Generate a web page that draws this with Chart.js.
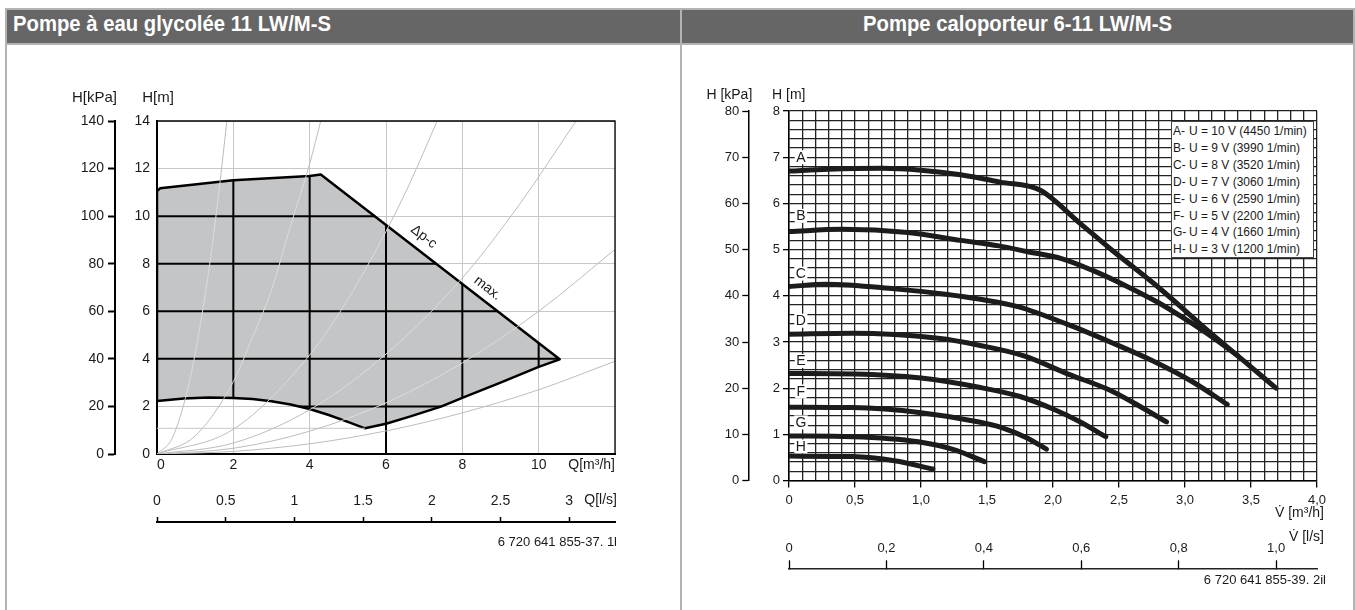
<!DOCTYPE html>
<html><head><meta charset="utf-8">
<script src="https://cdn.jsdelivr.net/npm/chart.js@4.4.1/dist/chart.umd.min.js"></script>
<style>
html,body{margin:0;padding:0;background:#fff}
body{width:1355px;height:610px;position:relative;overflow:hidden;font-family:'Liberation Sans',Arial,sans-serif}
.f{position:absolute;background:#b3b3b3}
.hdr{position:absolute;top:10px;height:33px;background:#666;color:#fff;font-family:'Liberation Sans Narrow','Liberation Sans',sans-serif;font-weight:bold;font-size:22px;line-height:28px;white-space:nowrap;overflow:hidden}
.hdr span{display:inline-block}
.box{position:absolute}
#leg{position:absolute;left:1171px;top:121px;width:143px;height:137px;border:1px solid #444;background:#fff;font-size:12px;line-height:16.9px;padding:1px 0 0 1px;box-sizing:border-box;color:#1a1a1a;white-space:pre}
#leg span{display:inline-block;width:16px}
</style></head><body>
<div class="f" style="left:5px;top:8px;width:1350px;height:2px"></div>
<div class="f" style="left:5px;top:8px;width:2px;height:602px"></div>
<div class="f" style="left:680px;top:8px;width:2px;height:602px"></div>
<div class="f" style="left:1353px;top:8px;width:2px;height:602px"></div>
<div class="f" style="left:5px;top:43px;width:1350px;height:2px"></div>
<div class="hdr" style="left:7px;width:673px;padding-left:6px;box-sizing:border-box"><span id="h1" style="transform-origin:left center">Pompe à eau glycolée 11 LW/M-S</span></div>
<div class="hdr" style="left:682px;width:671px;text-align:center"><span id="h2" style="transform-origin:center center">Pompe caloporteur 6-11 LW/M-S</span></div>
<div class="box" style="left:8px;top:45px;width:671px;height:565px"><canvas id="c1"></canvas></div>
<div class="box" style="left:682px;top:45px;width:671px;height:565px"><canvas id="c2"></canvas></div>
<div id="leg"></div>
<script>
// ================= LEFT CHART DATA (Q in m³/h, H in m) =================
const polyQ = [0, 0, 0.08, 2, 4, 4.29, 10.55, 10, 9, 8.03, 7.44, 6.6, 6, 5.45, 5, 4.5, 4, 3.5, 3, 2.5, 2, 1.35, 0.7, 0];
const polyH = [2.23, 11.05, 11.17, 11.51, 11.69, 11.75, 3.98, 3.66, 3.0, 2.38, 1.99, 1.56, 1.27, 1.08, 1.35, 1.64, 1.89, 2.08, 2.22, 2.31, 2.35, 2.38, 2.33, 2.23];
const sys1Q = [0, 0.4, 0.8, 1.1, 1.4, 1.62, 1.83], sys1H = [0, 0.67, 2.7, 5.1, 8.2, 11.0, 14];
const sys2Q = [0, 1, 2, 2.5, 3, 3.5, 4, 4.29], sys2H = [0, 0.76, 3.04, 4.9, 6.9, 9.6, 12.2, 14];
const sys3Q = [0, 2, 4, 5, 6, 6.6, 7.34], sys3H = [0, 1.04, 4.16, 6.5, 9.36, 11.3, 14];
const sys4Q = [0, 2, 4, 6, 8, 9.5, 10.98], sys4H = [0, 0.46, 1.86, 4.2, 7.4, 10.5, 14];
const sys5Q = [0, 2, 4, 6, 8, 10, 12], sys5H = [0, 0.24, 0.96, 2.15, 3.83, 6.0, 8.6];
const sys6Q = [0, 2, 4, 6, 8, 10, 12], sys6H = [0, 0.11, 0.43, 0.97, 1.73, 2.7, 3.9];
const minRefQ = [0, 5.45], minRefH = [1.08, 1.08];
const stem6Q = [6, 6], stem6H = [0, 1.27];
const innerGridQ = [2, 4, 6, 8, 10];
const innerGridH = [2, 4, 6, 8, 10];
const edgeLabels = ['Δp-c', 'max.'], edgeLabelQ = [6.99, 8.66], edgeLabelH = [9.13, 6.97];
const leftQMax = 12, leftHMax = 14, leftKpaMax = 140, leftLsMax = 12 / 3.6;
const leftQUnit = 'Q[m³/h]', leftLsUnit = 'Q[l/s]';
const leftNote = '6 720 641 855-37. 1l';

// ================= RIGHT CHART DATA (V in m³/h, H in m) =================
const curveA_Q = [0, 0.3, 0.7, 1.0, 1.3, 1.6, 1.9, 2.2, 2.45, 2.8, 3.2, 3.45, 3.69];
const curveA_H = [6.70, 6.74, 6.76, 6.72, 6.62, 6.46, 6.29, 5.58, 4.98, 4.18, 3.18, 2.58, 2.0];
const curveB_Q = [0, 0.4, 0.9, 1.3, 1.59, 1.8, 2.07, 2.3, 2.55, 2.8, 3.0, 3.2, 3.4];
const curveB_H = [5.39, 5.44, 5.37, 5.2, 5.08, 4.96, 4.8, 4.55, 4.22, 3.85, 3.5, 3.12, 2.7];
const curveC_Q = [0, 0.28, 0.8, 1.2, 1.44, 1.74, 2.12, 2.45, 2.75, 3.05, 3.32];
const curveC_H = [4.2, 4.25, 4.15, 4.03, 3.93, 3.76, 3.37, 2.98, 2.6, 2.15, 1.65];
const curveD_Q = [0, 0.48, 1.13, 1.44, 1.78, 2.12, 2.42, 2.65, 2.86];
const curveD_H = [3.17, 3.19, 3.08, 2.93, 2.70, 2.30, 1.97, 1.62, 1.27];
const curveE_Q = [0, 0.5, 1.0, 1.44, 1.75, 2.0, 2.2, 2.4];
const curveE_H = [2.32, 2.31, 2.22, 2.02, 1.82, 1.55, 1.28, 0.95];
const curveF_Q = [0, 0.48, 1.0, 1.44, 1.6, 1.8, 1.95];
const curveF_H = [1.59, 1.58, 1.47, 1.27, 1.16, 0.93, 0.68];
const curveG_Q = [0, 0.48, 0.98, 1.26, 1.48];
const curveG_H = [0.965, 0.95, 0.84, 0.66, 0.41];
const curveH_Q = [0, 0.48, 0.8, 1.09];
const curveH_H = [0.53, 0.52, 0.43, 0.25];
const curveLetters = ['A', 'B', 'C', 'D', 'E', 'F', 'G', 'H'];
const letterQ = [0.09, 0.09, 0.09, 0.09, 0.09, 0.09, 0.09, 0.09];
const letterH = [7.0, 5.73, 4.48, 3.46, 2.59, 1.93, 1.26, 0.74];
const legendLetters = ['A-', 'B-', 'C-', 'D-', 'E-', 'F-', 'G-', 'H-'];
const legendTexts = ['U = 10 V (4450 1/min)', 'U = 9 V (3990 1/min)', 'U = 8 V (3520 1/min)', 'U = 7 V (3060 1/min)',
  'U = 6 V (2590 1/min)', 'U = 5 V (2200 1/min)', 'U = 4 V (1660 1/min)', 'U = 3 V (1200 1/min)'];
const rightQMax = 4, rightHMax = 8, rightKpaMax = 80, rightLsMax = 1.084;
const rightQUnit = 'V\u0307 [m³/h]', rightLsUnit = 'V\u0307 [l/s]';
const rightNote = '6 720 641 855-39. 2il';

// ================= helpers =================
const FONT = "'Liberation Sans', Arial, sans-serif";
Chart.defaults.font.family = FONT;
Chart.defaults.color = '#1a1a1a';
const toXY = (qs, hs) => qs.map((q, i) => ({ x: q, y: hs[i] }));
const isMult = (v, s) => Math.abs(v / s - Math.round(v / s)) < 1e-6;
const commaFmt = v => (Math.abs(v) < 1e-9 ? '0' : v.toFixed(1).replace('.', ','));

function tracePoly(chart, ctx) {
  const xs = chart.scales.x, ys = chart.scales.y;
  polyQ.forEach((q, i) => {
    const px = xs.getPixelForValue(q), py = ys.getPixelForValue(polyH[i]);
    if (i === 0) ctx.moveTo(px, py); else ctx.lineTo(px, py);
  });
  ctx.closePath();
}
function drawText(ctx, text, x, y, size, align, rot) {
  ctx.save();
  ctx.font = size + 'px ' + FONT;
  ctx.fillStyle = '#1a1a1a';
  ctx.textAlign = align || 'center';
  ctx.textBaseline = 'middle';
  ctx.translate(x, y);
  if (rot) ctx.rotate(rot);
  ctx.fillText(text, 0, 0);
  ctx.restore();
}

// ================= LEFT CHART =================
const leftPlugin = {
  id: 'leftDecor',
  beforeDatasetsDraw(chart) {
    const ctx = chart.ctx, ca = chart.chartArea, xs = chart.scales.x, ys = chart.scales.y;
    ctx.save();
    ctx.beginPath(); tracePoly(chart, ctx);
    ctx.fillStyle = '#c4c5c7'; ctx.fill();
    ctx.clip();
    ctx.strokeStyle = '#000'; ctx.lineWidth = 2;
    innerGridQ.forEach(q => { const p = xs.getPixelForValue(q); ctx.beginPath(); ctx.moveTo(p, ca.top); ctx.lineTo(p, ca.bottom); ctx.stroke(); });
    innerGridH.forEach(h => { const p = ys.getPixelForValue(h); ctx.beginPath(); ctx.moveTo(ca.left, p); ctx.lineTo(ca.right, p); ctx.stroke(); });
    ctx.restore();
  },
  beforeDatasetDraw(chart, args) {
    if (!chart.data.datasets[args.index].sys) return;
    const ctx = chart.ctx, ca = chart.chartArea;
    ctx.save();
    ctx.beginPath(); ctx.rect(ca.left - 5, ca.top - 5, ca.width + 10, ca.height + 10); tracePoly(chart, ctx);
    ctx.clip('evenodd');
  },
  afterDatasetDraw(chart, args) {
    if (!chart.data.datasets[args.index].sys) return;
    const ctx = chart.ctx;
    ctx.restore();
    ctx.save();
    ctx.beginPath(); tracePoly(chart, ctx); ctx.clip();
    const el = args.meta.dataset, o = el.options;
    el.options = Object.assign({}, o, { borderColor: '#dcdcdc' });
    el.draw(ctx, chart.chartArea);
    el.options = o;
    ctx.restore();
  },
  afterDatasetsDraw(chart) {
    const ctx = chart.ctx, ca = chart.chartArea;
    ctx.save(); ctx.strokeStyle = '#000'; ctx.lineWidth = 1.3;
    ctx.beginPath(); ctx.moveTo(ca.left, ca.top); ctx.lineTo(ca.right, ca.top); ctx.lineTo(ca.right, ca.bottom); ctx.stroke();
    ctx.restore();
  },
  afterDraw(chart) {
    const ctx = chart.ctx, ca = chart.chartArea, s = chart.scales;
    drawText(ctx, 'H[kPa]', s.ykpa.right + 2, ca.top - 23, 15, 'right');
    drawText(ctx, 'H[m]', ca.left + 1, ca.top - 23, 15, 'center');
    drawText(ctx, leftLsUnit, ca.right + 2, s.x2.top - 22, 14, 'right');
    drawText(ctx, leftNote, ca.right + 2, s.x2.top + 20, 13, 'right');
    const x0 = s.x.getPixelForValue(polyQ[5]), y0 = s.y.getPixelForValue(polyH[5]);
    const x1 = s.x.getPixelForValue(polyQ[6]), y1 = s.y.getPixelForValue(polyH[6]);
    const ang = Math.atan2(y1 - y0, x1 - x0);
    edgeLabels.forEach((t, i) => drawText(ctx, t, s.x.getPixelForValue(edgeLabelQ[i]), s.y.getPixelForValue(edgeLabelH[i]), 14, 'center', ang));
  }
};
const sysDs = (q, h) => ({ data: toXY(q, h), showLine: true, borderColor: '#bdbdbd', borderWidth: 1, pointRadius: 0, cubicInterpolationMode: 'monotone', sys: true });
new Chart(document.getElementById('c1'), {
  type: 'scatter',
  data: { datasets: [
    sysDs(sys1Q, sys1H), sysDs(sys2Q, sys2H), sysDs(sys3Q, sys3H), sysDs(sys4Q, sys4H), sysDs(sys5Q, sys5H), sysDs(sys6Q, sys6H),
    { data: toXY(minRefQ, minRefH), showLine: true, borderColor: '#c8c8c8', borderWidth: 1, pointRadius: 0 },
    { data: toXY(stem6Q, stem6H), showLine: true, borderColor: '#000', borderWidth: 2, pointRadius: 0 },
    { data: toXY(polyQ.concat([polyQ[0]]), polyH.concat([polyH[0]])), showLine: true, borderColor: '#000', borderWidth: 2.5, pointRadius: 0, tension: 0, borderJoinStyle: 'round' }
  ] },
  options: {
    responsive: true, maintainAspectRatio: false, animation: false, events: [],
    layout: { padding: { top: 76, right: 64, bottom: 58, left: 0 } },
    plugins: { legend: { display: false }, tooltip: { enabled: false } },
    scales: {
      x: { type: 'linear', position: 'bottom', weight: 0, min: 0, max: leftQMax,
        ticks: { stepSize: 2, autoSkip: false, maxRotation: 0, align: 'inner', padding: 3, font: { size: 14 },
          callback: v => (v === leftQMax ? leftQUnit : String(v)) },
        grid: { color: '#c8c8c8', lineWidth: 1, drawTicks: false },
        border: { color: '#000', width: 2 },
        afterFit: s => { s.height = 68; } },
      x2: { type: 'linear', position: 'bottom', weight: 1, min: 0, max: leftLsMax,
        ticks: { stepSize: 0.5, includeBounds: false, autoSkip: false, maxRotation: 0, mirror: true, padding: 12, font: { size: 14 },
          callback: v => String(v) },
        grid: { drawOnChartArea: false, drawTicks: true, tickLength: -5, tickWidth: 1.5, tickColor: '#000' },
        border: { color: '#000', width: 2 },
        afterFit: s => { s.height = 30; } },
      y: { type: 'linear', position: 'left', weight: 0, min: 0, max: leftHMax,
        ticks: { stepSize: 2, padding: 7, font: { size: 14 } },
        grid: { color: '#c8c8c8', lineWidth: 1, drawTicks: false },
        border: { color: '#000', width: 2 },
        afterFit: s => { s.width = 42; } },
      ykpa: { type: 'linear', position: 'left', weight: 1, min: 0, max: leftKpaMax,
        ticks: { stepSize: 20, padding: 4, font: { size: 14 } },
        grid: { drawOnChartArea: false, tickLength: 7, tickWidth: 2, tickColor: '#000' },
        border: { color: '#000', width: 2 },
        afterFit: s => { s.width = 107; } }
    }
  },
  plugins: [leftPlugin]
});

// ================= RIGHT CHART =================
const rightPlugin = {
  id: 'rightDecor',
  beforeDatasetsDraw(chart) {
    const ctx = chart.ctx, xs = chart.scales.x, ys = chart.scales.y;
    ctx.save();
    ctx.font = '14px ' + FONT; ctx.textAlign = 'center'; ctx.textBaseline = 'middle';
    curveLetters.forEach((t, i) => {
      const px = xs.getPixelForValue(letterQ[i]), py = ys.getPixelForValue(letterH[i]);
      const w = ctx.measureText(t).width + 3;
      ctx.fillStyle = '#fff'; ctx.fillRect(px - w / 2, py - 7, w, 14);
      ctx.fillStyle = '#1a1a1a'; ctx.fillText(t, px, py + 0.5);
    });
    ctx.restore();
  },
  afterDraw(chart) {
    const ctx = chart.ctx, ca = chart.chartArea, s = chart.scales;
    drawText(ctx, 'H [kPa]', s.ykpa.right + 4, ca.top - 16, 14, 'right');
    drawText(ctx, 'H [m]', ca.left - 17, ca.top - 16, 14, 'left');
    drawText(ctx, rightQUnit, ca.right + 7, ca.bottom + 32.5, 14, 'right');
    drawText(ctx, rightLsUnit, ca.right + 7, s.x2.top - 31, 14, 'right');
    drawText(ctx, rightNote, ca.right + 9, s.x2.top + 12.5, 13, 'right');
  }
};
const pumpDs = (q, h) => ({ data: toXY(q, h), showLine: true, borderColor: '#1c1c1c', borderWidth: 5, borderCapStyle: 'round', borderJoinStyle: 'round', pointRadius: 0, cubicInterpolationMode: 'monotone' });
new Chart(document.getElementById('c2'), {
  type: 'scatter',
  data: { datasets: [
    pumpDs(curveA_Q, curveA_H), pumpDs(curveB_Q, curveB_H), pumpDs(curveC_Q, curveC_H), pumpDs(curveD_Q, curveD_H),
    pumpDs(curveE_Q, curveE_H), pumpDs(curveF_Q, curveF_H), pumpDs(curveG_Q, curveG_H), pumpDs(curveH_Q, curveH_H)
  ] },
  options: {
    responsive: true, maintainAspectRatio: false, animation: false, events: [],
    layout: { padding: { top: 66, right: 36, bottom: 21.7, left: 0 } },
    plugins: { legend: { display: false }, tooltip: { enabled: false } },
    scales: {
      x: { type: 'linear', position: 'bottom', weight: 0, min: 0, max: rightQMax,
        ticks: { stepSize: 0.1, maxTicksLimit: 100, autoSkip: false, maxRotation: 0, padding: 4.6, font: { size: 13 },
          callback: v => (isMult(v, 0.5) ? commaFmt(v) : '') },
        grid: { color: '#222', lineWidth: 1.3, tickLength: 7, tickWidth: 1.3,
          tickColor: c => (c.tick && isMult(c.tick.value, 0.5) ? '#000' : 'rgba(0,0,0,0)') },
        border: { color: '#000', width: 1.5 },
        afterFit: s => { s.height = 87.7; } },
      x2: { type: 'linear', position: 'bottom', weight: 1, min: 0, max: rightLsMax,
        ticks: { stepSize: 0.2, includeBounds: false, autoSkip: false, maxRotation: 0, mirror: true, padding: 12, font: { size: 13 },
          callback: v => commaFmt(v) },
        grid: { drawOnChartArea: false, drawTicks: true, tickLength: -8, tickWidth: 1.3, tickColor: '#000' },
        border: { color: '#222', width: 1.5 },
        afterFit: s => { s.height = 20; } },
      y: { type: 'linear', position: 'left', weight: 0, min: 0, max: rightHMax,
        ticks: { stepSize: 0.2, maxTicksLimit: 100, autoSkip: false, padding: 3, font: { size: 13 },
          callback: v => (isMult(v, 1) ? String(Math.round(v)) : '') },
        grid: { color: '#222', lineWidth: 1.3, tickLength: 6, tickWidth: 1.3,
          tickColor: c => (c.tick && isMult(c.tick.value, 1) ? '#000' : 'rgba(0,0,0,0)') },
        border: { color: '#000', width: 1.5 },
        afterFit: s => { s.width = 40.7; } },
      ykpa: { type: 'linear', position: 'left', weight: 1, min: 0, max: rightKpaMax,
        ticks: { stepSize: 10, padding: 3, font: { size: 13 } },
        grid: { drawOnChartArea: false, tickLength: 6, tickWidth: 1.3, tickColor: '#000' },
        border: { color: '#000', width: 1.5 },
        afterFit: s => { s.width = 66.3; } }
    }
  },
  plugins: [rightPlugin]
});

// ================= legend (HTML) & headers =================
document.getElementById('leg').innerHTML = legendLetters.map((l, i) => '<span>' + l + '</span>' + legendTexts[i]).join('\n');
const h1 = document.getElementById('h1'), h2 = document.getElementById('h2');
const k = 318 / h1.getBoundingClientRect().width;
h1.style.transform = 'scaleX(' + k + ')';
h2.style.transform = 'scaleX(' + k + ')';
</script>
</body></html>
